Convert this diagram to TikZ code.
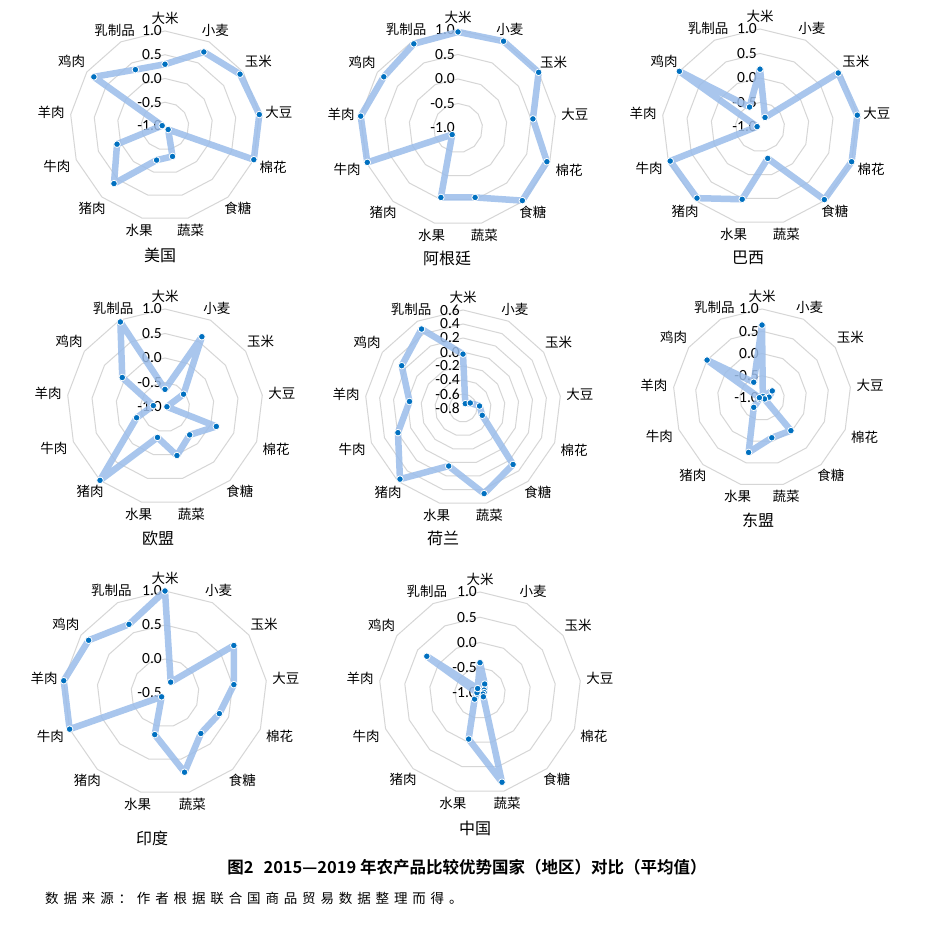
\documentclass[tikz,border=0pt]{standalone}
\usepackage{fontspec}
\setmainfont{Carlito}
\newfontfamily\cjk{Noto Sans CJK SC}
\newfontfamily\cjkb{Noto Sans CJK SC Bold}
\definecolor{ringc}{RGB}{214,214,214}
\definecolor{serc}{RGB}{155,189,234}
\definecolor{dotc}{RGB}{0,112,192}
\tikzset{
  ring/.style={draw=ringc,line width=1pt},
  series/.style={draw=serc,line width=6.5pt,opacity=0.85,line join=round},
  catlab/.style={font=\cjk\fontsize{13.5}{14}\selectfont,inner sep=1pt},
  ticklab/.style={font=\fontsize{15.5}{15}\selectfont,anchor=east,inner sep=1pt},
  ctitle/.style={font=\cjk\fontsize{16}{16}\selectfont}
}
\newcommand{\radarchart}[7]{%
 \begin{scope}[shift={(#2,#3)}]
  \foreach \f in {#5} {\draw[ring] (90:{\f*#4 pt}) \foreach \k in {1,...,12}{ -- ({90-\k*360/13}:{\f*#4 pt})} -- cycle;}
  \foreach \f/\t [count=\j] in {#7} {\node[ticklab] (#1-t\j) at (-2pt,{\f*#4 pt}) {\t};}
  \foreach \t [count=\i from 0] in {大米,小麦,玉米,大豆,棉花,食糖,蔬菜,水果,猪肉,牛肉,羊肉,鸡肉,乳制品}
    {\pgfmathsetmacro\ang{90-\i*360/13}
     \node[catlab,anchor=\ang+180] (#1-l\i) at (\ang:{#4 pt+5pt}) {\t};}
  \foreach \v [count=\i from 0] in {#6} {\coordinate (#1-\i) at ({90-\i*360/13}:{\v*#4 pt});}
  \draw[series] (#1-0) \foreach \k in {1,...,12}{ -- (#1-\k)} -- cycle;
  \foreach \k in {0,...,12} {\fill[dotc,draw=white,line width=0.8pt] (#1-\k) circle (3.3pt);}
 \end{scope}}
\begin{document}
\begin{tikzpicture}[x=1pt,y=1pt]
\useasboundingbox (0,0) rectangle (924,928);
\fill[white] (0,0) rectangle (924,928);
\radarchart{us}{165}{802}{95}{1,0.75,0.5,0.25}{0.65,0.88,0.96,1.0,1.0,0.05,0.33,0.37,0.81,0.54,0.03,0.91,0.67}{1/1.0,0.75/0.5,0.5/0.0,0.25/-0.5,0/-1.0}
\radarchart{ar}{458}{800}{98}{1,0.75,0.5,0.25}{0.98,1.0,1.0,0.77,0.97,0.99,0.73,0.73,0.09,0.99,1.0,0.92,0.97}{1/1.0,0.75/0.5,0.5/0.0,0.25/-0.5,0/-1.0}
\radarchart{br}{760}{801}{98}{1,0.75,0.5,0.25}{0.59,0.11,0.97,1.0,1.0,0.99,0.33,0.76,0.97,0.98,0.03,1.0,0.23}{1/1.0,0.75/0.5,0.5/0.0,0.25/-0.5,0/-1.0}
\radarchart{eu}{165}{521}{98}{1,0.75,0.5,0.25}{0.18,0.81,0.23,0.02,0.56,0.38,0.51,0.32,1.0,0.31,0.12,0.53,0.98}{1/1.0,0.75/0.5,0.5/0.0,0.25/-0.5,0/-1.0}
\radarchart{nl}{463}{520}{98}{1,0.857,0.714,0.571,0.429,0.286,0.143}{0.55,0.05,0.09,0.17,0.21,0.77,0.90,0.61,0.97,0.71,0.55,0.76,0.91}{1/0.6,0.857/0.4,0.714/0.2,0.571/0.0,0.429/-0.2,0.286/-0.4,0.143/-0.6,0/-0.8}
\radarchart{as}{762}{530}{89}{1,0.75,0.5,0.25}{0.82,0.02,0.14,0.08,0.03,0.49,0.46,0.63,0.14,0.03,0.03,0.75,0.2}{1/1.0,0.75/0.5,0.5/0.0,0.25/-0.5,0/-1.0}
\radarchart{in}{165}{235}{102}{1,0.667,0.333}{1.0,0.12,0.82,0.68,0.57,0.53,0.80,0.42,0.05,1.0,1.0,0.91,0.76}{1/1.0,0.667/0.5,0.333/0.0,0/-0.5}
\radarchart{cn}{480}{235}{101}{1,0.75,0.5,0.25}{0.30,0.10,0.05,0.04,0.03,0.05,0.91,0.47,0.08,0.03,0.03,0.64,0.05}{1/1.0,0.75/0.5,0.5/0.0,0.25/-0.5,0/-1.0}
\node[ctitle] (t1) at (160,673) {美国};
\node[ctitle] (t2) at (447,670) {阿根廷};
\node[ctitle] (t3) at (748,670) {巴西};
\node[ctitle] (t4) at (158,390) {欧盟};
\node[ctitle] (t5) at (443,390) {荷兰};
\node[ctitle] (t6) at (758,408) {东盟};
\node[ctitle] (t7) at (152,90) {印度};
\node[ctitle] (t8) at (475,100) {中国};
\node[font=\cjkb\fontsize{16.5}{16}\selectfont] (cap) at (467,61) {图2\hspace{0.6em}2015—2019 年农产品比较优势国家（地区）对比（平均值）};
\node[font=\cjk\fontsize{13.5}{14}\selectfont\addfontfeatures{LetterSpace=36},anchor=west,inner sep=0pt] (src) at (45,30) {数据来源：作者根据联合国商品贸易数据整理而得。};
\end{tikzpicture}
\end{document}
